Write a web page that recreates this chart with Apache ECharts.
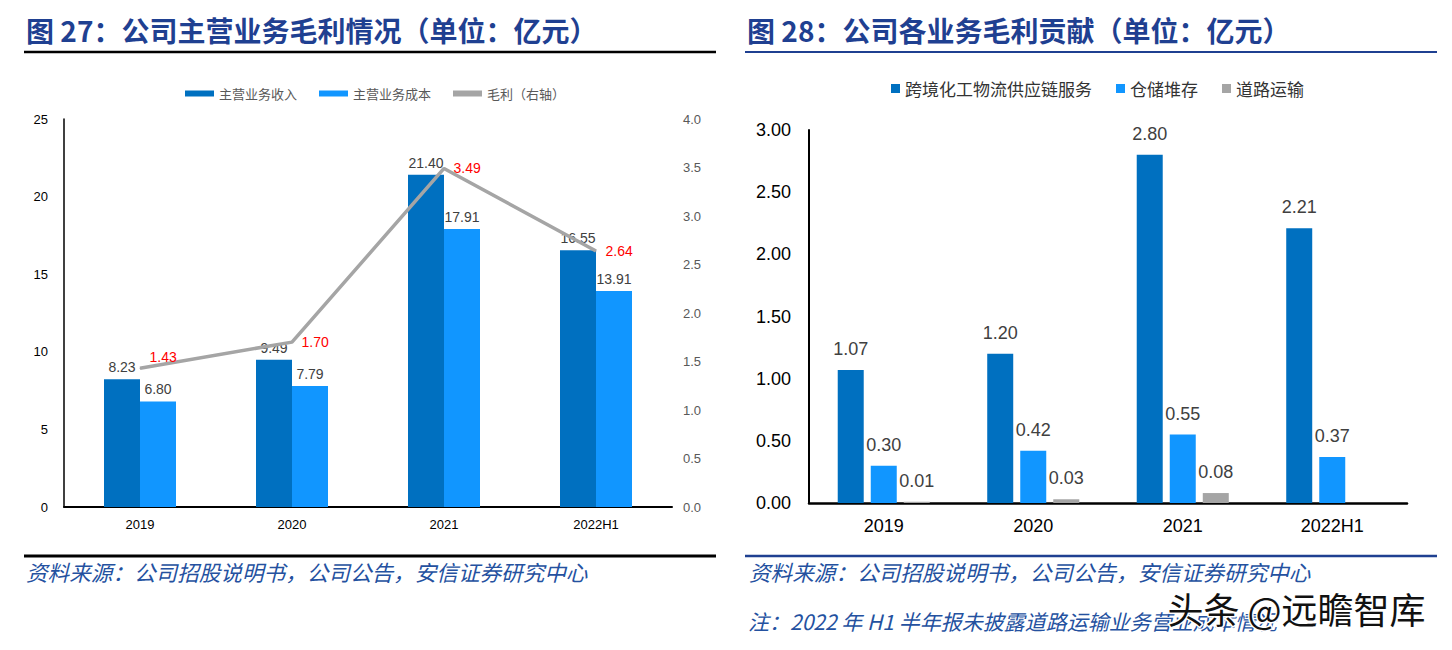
<!DOCTYPE html>
<html><head><meta charset="utf-8">
<script src="https://cdn.jsdelivr.net/npm/echarts@6/dist/echarts.min.js"></script>
<style>html,body{margin:0;padding:0;background:#fff}#c{width:1452px;height:650px}</style>
</head><body><div id="c"></div>
<script>
// ---- data ----
const categories = ['2019', '2020', '2021', '2022H1'];
// 图27
const revenue = [8.23, 9.49, 21.40, 16.55];      // 主营业务收入
const cost = [6.80, 7.79, 17.91, 13.91];         // 主营业务成本
const grossProfit = [1.43, 1.70, 3.49, 2.64];    // 毛利（右轴）
const leftAxisTicks = { min: 0, max: 25, interval: 5 };
const rightAxisTicks = { min: 0, max: 4, interval: 0.5 };
// 图28
const supplyChain = [1.07, 1.20, 2.80, 2.21];    // 跨境化工物流供应链服务
const storage = [0.30, 0.42, 0.55, 0.37];        // 仓储堆存
const roadTransport = [0.01, 0.03, 0.08, null];  // 道路运输
const chart2Ticks = { min: 0, max: 3, interval: 0.5 };

const names1 = ['主营业务收入', '主营业务成本', '毛利（右轴）'];
const names2 = ['跨境化工物流供应链服务', '仓储堆存', '道路运输'];
const title1 = '图 27：公司主营业务毛利情况（单位：亿元）';
const title2 = '图 28：公司各业务毛利贡献（单位：亿元）';
const sourceText = '资料来源：公司招股说明书，公司公告，安信证券研究中心';
const noteText = '注：2022 年 H1 半年报未披露道路运输业务营业成本情况';
const watermark = '头条 @远瞻智库';

// ---- styles ----
const CJK = '"Noto Sans CJK SC", sans-serif';
const NUM = '"Liberation Sans", Arial, sans-serif';
const DARK = '#0070C0', LIGHT = '#1196FF', GRAY = '#A5A5A5';
const TITLE_BLUE = '#1F4091', SRC_BLUE = '#24519F';

const chart = echarts.init(document.getElementById('c'), null, { renderer: 'svg' });

const fmt2 = p => (p.value == null ? '' : Number(p.value).toFixed(2));

const option = {
  animation: false,
  backgroundColor: '#fff',
  grid: [
    { left: 64, right: 780, top: 119, bottom: 143 },
    { left: 809, right: 45, top: 130, bottom: 147 }
  ],
  legend: [
    {
      left: 180, top: 82, itemWidth: 29, itemHeight: 6, itemGap: 22,
      textStyle: { fontFamily: CJK, fontSize: 13, color: '#595959' },
      data: [
        { name: names1[0], icon: 'rect' },
        { name: names1[1], icon: 'rect' },
        { name: names1[2], icon: 'rect' }
      ]
    },
    {
      left: 886, top: 75, itemWidth: 9, itemHeight: 9, itemGap: 24,
      textStyle: { fontFamily: CJK, fontSize: 17, color: '#333' },
      data: names2.map(n => ({ name: n, icon: 'rect' }))
    }
  ],
  xAxis: [
    {
      type: 'category', gridIndex: 0, data: categories,
      axisLine: { lineStyle: { color: '#000', width: 2 } },
      axisTick: { show: false },
      axisLabel: { fontFamily: NUM, fontSize: 13, color: '#000', margin: 11 }
    },
    {
      type: 'category', gridIndex: 1, data: categories,
      axisLine: { lineStyle: { color: '#000', width: 2.5 } },
      axisTick: { show: false },
      axisLabel: { fontFamily: NUM, fontSize: 18, color: '#000', margin: 14 }
    }
  ],
  yAxis: [
    {
      type: 'value', gridIndex: 0, min: leftAxisTicks.min, max: leftAxisTicks.max, interval: leftAxisTicks.interval,
      axisLine: { show: true, lineStyle: { color: '#000', width: 1.5 } },
      axisTick: { show: false }, splitLine: { show: false },
      axisLabel: { fontFamily: NUM, fontSize: 13, color: '#000', margin: 16 }
    },
    {
      type: 'value', gridIndex: 0, position: 'right', min: rightAxisTicks.min, max: rightAxisTicks.max, interval: rightAxisTicks.interval,
      axisLine: { show: false }, axisTick: { show: false }, splitLine: { show: false },
      axisLabel: { fontFamily: NUM, fontSize: 13, color: '#595959', margin: 11, formatter: v => v.toFixed(1) }
    },
    {
      type: 'value', gridIndex: 1, min: chart2Ticks.min, max: chart2Ticks.max, interval: chart2Ticks.interval,
      axisLine: { show: true, lineStyle: { color: '#000', width: 2 } },
      axisTick: { show: false }, splitLine: { show: false },
      axisLabel: { fontFamily: NUM, fontSize: 18, color: '#000', margin: 18, formatter: v => v.toFixed(2) }
    }
  ],
  series: [
    {
      name: names1[0], type: 'bar', xAxisIndex: 0, yAxisIndex: 0, data: revenue,
      barWidth: 36, barGap: '0%', itemStyle: { color: DARK },
      label: { show: true, position: 'top', distance: 5, fontFamily: NUM, fontSize: 14, color: '#404040', formatter: fmt2 }
    },
    {
      name: names1[1], type: 'bar', xAxisIndex: 0, yAxisIndex: 0, data: cost,
      barWidth: 36, barGap: '0%', itemStyle: { color: LIGHT },
      label: { show: true, position: 'top', distance: 5, fontFamily: NUM, fontSize: 14, color: '#404040', formatter: fmt2 }
    },
    {
      name: names1[2], type: 'line', xAxisIndex: 0, yAxisIndex: 1,
      data: grossProfit.map((v, i) => i === 0 ? { value: v, label: { offset: [0, -11] } } : v),
      symbol: 'circle', symbolSize: 1, showSymbol: true, z: 5,
      lineStyle: { color: GRAY, width: 3.5 }, itemStyle: { color: GRAY },
      label: { show: true, position: 'right', distance: 9, fontFamily: NUM, fontSize: 14, color: '#FF0000', formatter: fmt2 }
    },
    {
      name: names2[0], type: 'bar', xAxisIndex: 1, yAxisIndex: 2, data: supplyChain,
      barWidth: 26, barGap: '27%', itemStyle: { color: DARK },
      label: { show: true, position: 'top', distance: 12, fontFamily: NUM, fontSize: 18, color: '#404040', formatter: fmt2 }
    },
    {
      name: names2[1], type: 'bar', xAxisIndex: 1, yAxisIndex: 2, data: storage,
      barWidth: 26, barGap: '27%', itemStyle: { color: LIGHT },
      label: { show: true, position: 'top', distance: 12, fontFamily: NUM, fontSize: 18, color: '#404040', formatter: fmt2 }
    },
    {
      name: names2[2], type: 'bar', xAxisIndex: 1, yAxisIndex: 2, data: roadTransport,
      barWidth: 26, barGap: '27%', itemStyle: { color: GRAY },
      label: { show: true, position: 'top', distance: 12, fontFamily: NUM, fontSize: 18, color: '#404040', formatter: fmt2 }
    }
  ],
  graphic: [
    { type: 'text', left: 26, top: 16, style: { text: title1, font: 'bold 28px ' + CJK, fill: TITLE_BLUE } },
    { type: 'line', shape: { x1: 24, y1: 52, x2: 716, y2: 52 }, style: { stroke: '#000', lineWidth: 2.5 } },
    { type: 'text', left: 747, top: 16, style: { text: title2, font: 'bold 28px ' + CJK, fill: TITLE_BLUE } },
    { type: 'line', shape: { x1: 745, y1: 52, x2: 1437, y2: 52 }, style: { stroke: TITLE_BLUE, lineWidth: 2 } },
    { type: 'line', shape: { x1: 24, y1: 556, x2: 716, y2: 556 }, style: { stroke: '#000', lineWidth: 3 } },
    { type: 'line', shape: { x1: 745, y1: 556, x2: 1437, y2: 556 }, style: { stroke: TITLE_BLUE, lineWidth: 2.5 } },
    { type: 'text', left: 26, top: 561, style: { text: sourceText, font: 'italic 21.6px ' + CJK, fill: SRC_BLUE } },
    { type: 'text', left: 749, top: 561, style: { text: sourceText, font: 'italic 21.6px ' + CJK, fill: SRC_BLUE } },
    { type: 'text', left: 748, top: 610, style: { text: noteText, font: 'italic 21px ' + CJK, fill: SRC_BLUE } },
    { type: 'text', left: 1166, top: 588, z: 100, style: { text: watermark, font: '36px ' + CJK, fill: '#111', stroke: '#fff', lineWidth: 3 } }
  ]
};
chart.setOption(option);
</script>
</body></html>
